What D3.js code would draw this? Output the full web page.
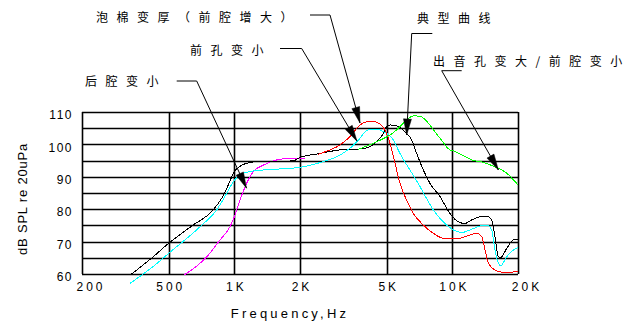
<!DOCTYPE html>
<html><head><meta charset="utf-8">
<script src="https://cdn.jsdelivr.net/npm/d3@7"></script>
<style>
html,body{margin:0;padding:0;background:#fff;}
svg{display:block;}
</style></head>
<body>
<svg id="c" width="640" height="330"></svg>
<script>
// ---- data ----
const xTickValues = [200, 500, 1000, 2000, 5000, 10000, 20000];
const xTickLabels = ["200", "500", "1K", "2K", "5K", "10K", "20K"];
const yTickValues = [60, 70, 80, 90, 100, 110];
const yTickLabels = ["60", "70", "80", "90", "100", "110"];
const yGridValues = [60, 65, 70, 75, 80, 85, 90, 95, 100, 105, 110];

const typicalF  = [338,424,500,637,800,875,938,1000,1118,1265,1862,2000,2471,3050,3770,4190,4573,4823,4950,5175,5554,6063,6503,6860,7358,7890,8774,9750,10640,11420,12270,13390,14370,15140,15690,16260,16670,17750,19040,20000];
const typicalDb = [60,65.3,69.5,74.8,79.8,83.4,87.5,91.6,94,94.7,94.9,96,97.2,98.3,98.6,99.3,101.4,103.4,105.2,106,105.7,103.9,101.4,97.2,92.1,88,83.9,78.7,76.1,75.6,76.7,77.7,77.9,76.7,71.5,65.3,65.1,67.9,70.5,70.7];

const frontHoleF  = [332,424,500,696,830,922,989,1061,1222,1508,2000,2471,3050,3390,3770,3976,4190,4573,4823,5000,5357,5750,6390,7100,8170,9420,10100,11040,12050,13390,14370,15140,15690,16260,16670,17750,19040,20000];
const frontHoleDb = [57.1,62.3,66.4,74.6,79.8,84.9,88.5,90.6,91.8,92.3,92.9,94.4,96.7,98.8,101.9,103.9,104.6,104.6,103.9,103.4,101.4,97.2,92.1,87,79.8,75.1,73.6,72.8,73.6,74.8,75.1,73.6,67.4,63.3,62.6,65.3,67.4,68.2];

const foamF  = [2426,2745,3050,3390,3770,4046,4335,4573,4700,4910,5175,5455,5750,6170,6620,7358,8170,9090,10460,11630,12930,13630,14120,14630,15690,17120,20000];
const foamDb = [97.0,98.3,99.8,102.4,106,107,107.2,106.6,106,104.4,100.3,94.2,88,82.8,78.7,75.1,72.6,71,70.8,71.7,72.6,71.5,67.4,63.3,61.2,60.5,60.7];

const outletF  = [3703,4496,5357,6063,6620,7100,7890,8170,8774,9750,10100,11630,12500,13390,15400,17750,20000];
const outletDb = [98.5,100.8,103.6,107,108.8,108.7,106,104.6,101.9,98.3,98.0,96.0,95.0,94.7,93.3,91.1,87.5];

const backF  = [589,747,859,955,1000,1061,1139,1222,1358,1564,1800,2110];
const backDb = [59.7,65.3,70.5,74.6,77.7,82.8,88,91.6,93.6,95.2,95.7,95.7];

const seriesNames  = ["后腔变小", "典型曲线", "前孔变小", "泡棉变厚（前腔增大）", "出音孔变大/前腔变小"];
const seriesColors = ["#ff00ff", "#000000", "#00ffff", "#ff0000", "#00ff00"];
const seriesF  = [backF, typicalF, frontHoleF, foamF, outletF];
const seriesDb = [backDb, typicalDb, frontHoleDb, foamDb, outletDb];

// annotation targets (frequency, dB) for each label
const annotTargetF  = [1137, 6170, 3652, 3770, 16260];
const annotTargetDb = [86.5, 102.9, 101.0, 106.6, 92.1];

const xTitle = "Frequency,Hz";
const yTitle = "dB SPL re 20uPa";

// ---- layout ----
const svg = d3.select("#c");
const L = 82, R = 518, T = 112, B = 274;
const x = d3.scaleLog().domain([200, 20000]).range([L, R]);
const y = d3.scaleLinear().domain([60, 110]).range([B, T]);

// grid
const grid = svg.append("g");
grid.selectAll("line.h").data(yGridValues).join("line")
  .attr("x1", L).attr("x2", R)
  .attr("y1", d => Math.round(y(d)) + 0.5).attr("y2", d => Math.round(y(d)) + 0.5)
  .attr("stroke", "#000").attr("stroke-width", 1.6);
grid.selectAll("line.v").data(xTickValues).join("line")
  .attr("y1", T).attr("y2", B)
  .attr("x1", d => Math.round(x(d)) + 0.5).attr("x2", d => Math.round(x(d)) + 0.5)
  .attr("stroke", "#000").attr("stroke-width", 1.6);

// x tick labels via axis
const xAxis = d3.axisBottom(x).tickValues(xTickValues)
  .tickFormat((d, i) => xTickLabels[i]).tickSize(0).tickPadding(0);
const gx = svg.append("g").attr("transform", `translate(0,${B + 8})`).call(xAxis);
gx.select(".domain").remove();
gx.selectAll("text")
  .attr("font-family", "Liberation Sans, Arial, sans-serif")
  .attr("font-size", 12).attr("letter-spacing", "3px").attr("fill", "#000")
  .attr("dx", (d, i) => (i === 0 || i === xTickValues.length - 1) ? 8.5 : 1.5)
  .attr("dy", "0.71em");

const yAxis = d3.axisLeft(y).tickValues(yTickValues)
  .tickFormat((d, i) => yTickLabels[i]).tickSize(0).tickPadding(0);
const gy = svg.append("g").attr("transform", `translate(${L - 9},0)`).call(yAxis);
gy.select(".domain").remove();
gy.selectAll("text")
  .attr("font-family", "Liberation Sans, Arial, sans-serif")
  .attr("font-size", 12).attr("letter-spacing", "1.5px").attr("fill", "#000")
  .attr("dy", "0.55em");

// titles
svg.append("text").attr("x", 290).attr("y", 318)
  .attr("text-anchor", "middle")
  .attr("font-family", "Liberation Sans, Arial, sans-serif")
  .attr("font-size", 13).attr("letter-spacing", "3.2px").attr("fill", "#000")
  .text(xTitle);
svg.append("text").attr("transform", "translate(27,199) rotate(-90)")
  .attr("text-anchor", "middle")
  .attr("font-family", "Liberation Sans, Arial, sans-serif")
  .attr("font-size", 13).attr("letter-spacing", "0.8px").attr("fill", "#000")
  .text(yTitle);

// curves
const line = d3.line().x(d => x(d[0])).y(d => y(d[1])).curve(d3.curveMonotoneX);
const drawOrder = [0, 1, 2, 3, 4];
drawOrder.forEach(i => {
  const pts = seriesF[i].map((f, k) => [f, seriesDb[i][k]]);
  svg.append("path").datum(pts).attr("d", line)
    .attr("fill", "none").attr("stroke", seriesColors[i]).attr("stroke-width", 1)
    .attr("shape-rendering", "crispEdges");
});

// annotations: label position + elbow (layout), target from data
const annotLayout = [
  {tx: 85,  ty: 80, e1: [176.7, 81], e2: [196.7, 81]},
  {tx: 417, ty: 17.5, e1: [432.3, 33.5], e2: [411.7, 33.5]},
  {tx: 190, ty: 49, e1: [280, 48.5], e2: [301.7, 48.5]},
  {tx: 96,  ty: 16, e1: [310, 15], e2: [330, 15]},
  {tx: 433, ty: 60, e1: [461.7, 70.7], e2: [441.7, 70.7]}
];
const ann = svg.append("g");
annotLayout.forEach((a, i) => {
  ann.append("text").attr("x", a.tx).attr("y", a.ty)
    .attr("dominant-baseline", "central")
    .attr("font-family", "Noto Sans CJK SC, sans-serif")
    .attr("font-size", 12).attr("letter-spacing", "8.5px").attr("fill", "#000")
    .text(seriesNames[i]);
  const tip = [x(annotTargetF[i]), y(annotTargetDb[i])];
  ann.append("path")
    .attr("d", d3.line()([a.e1, a.e2, tip]))
    .attr("fill", "none").attr("stroke", "#000").attr("stroke-width", 1);
  const dx = tip[0] - a.e2[0], dy = tip[1] - a.e2[1];
  const len = Math.hypot(dx, dy), ux = dx / len, uy = dy / len;
  const hl = 16, hw = 4;
  const bx = tip[0] - ux * hl, by = tip[1] - uy * hl;
  ann.append("path")
    .attr("d", d3.line()([[tip[0], tip[1]], [bx - uy * hw, by + ux * hw], [bx + uy * hw, by - ux * hw]]) + "Z")
    .attr("fill", "#000").attr("stroke", "#000").attr("stroke-width", 0.5);
});
</script>
</body></html>
